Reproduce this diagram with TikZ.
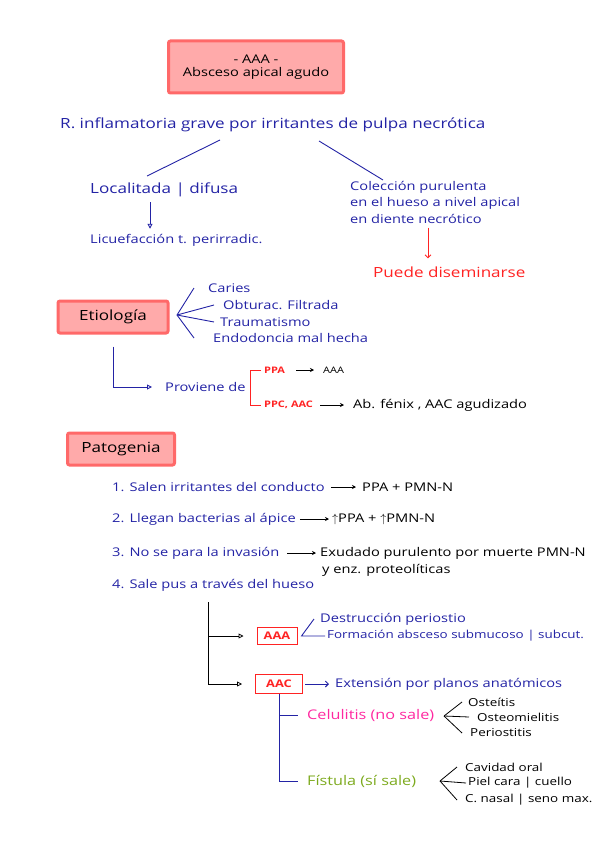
\documentclass[tikz,border=0pt]{standalone}
\usepackage{fontspec}
\setmainfont{Open Sans}[FakeStretch=1.22]
\usetikzlibrary{arrows.meta}

\definecolor{inkblue}{RGB}{35,35,165}
\definecolor{inkred}{RGB}{255,35,35}
\definecolor{inkpink}{RGB}{255,40,160}
\definecolor{inkgreen}{RGB}{125,170,30}
\definecolor{boxfill}{RGB}{255,170,170}
\definecolor{boxline}{RGB}{255,105,105}

\newcommand\fsbig{\fontsize{14}{16}\selectfont}
\newcommand\fscol{\fontsize{13.3}{15}\selectfont}
\newcommand\fsmid{\fontsize{12}{16.5}\selectfont}
\newcommand\fsnarrow{\fontsize{11}{12}\selectfont}
\newcommand\fssmall{\fontsize{9}{10}\selectfont}

\begin{document}
\begin{tikzpicture}[x=1pt, y=-1pt,
  txt/.style={anchor=west, inner sep=0pt},
  headbox/.style={draw=boxline, line width=3pt, fill=boxfill, rounded corners=2pt,
    inner sep=0pt, align=center, text=black},
  redbox/.style={draw=inkred, line width=1pt, fill=white, inner sep=0pt, text=inkred,
    font=\fontsize{10.5}{12}\selectfont\bfseries},
  bl/.style={draw=inkblue, line width=0.9pt},
  rl/.style={draw=inkred, line width=0.9pt},
  kl/.style={draw=black, line width=0.8pt},
  openhead/.style={-{Triangle[open, length=5pt, width=5pt]}},
  texthead/.style={-{Stealth[length=4pt, width=4pt]}}
]
\useasboundingbox (0,0) rectangle (599,848);

%%%%%%%%%%
% Header
%%%%%%%%%%
\node[headbox, minimum width=175pt, minimum height=52pt, font=\fsmid] (title) at (256,67)
  {- AAA -\\[-3pt]Absceso apical agudo};

%%%%%%%%%%
% Definition
%%%%%%%%%%
\node[txt, text=inkblue, font=\fsbig] (rinf) at (60,125) {R. inflamatoria grave por irritantes de pulpa necrótica};
\node[txt, text=inkblue, font=\fsbig] (loc) at (90,190) {Localitada | difusa};
\node[txt, text=inkblue, font=\fsmid] (licu) at (90,240) {Licuefacción t. perirradic.};
\node[txt, text=inkblue, font=\fsmid, anchor=north west, align=left] (colec) at (350,181)
  {Colección purulenta\\en el hueso a nivel apical\\en diente necrótico};
\node[txt, text=inkred, font=\fsbig] (puede) at (373,272) {Puede diseminarse};

\coordinate (rl1) at (220,140);
\coordinate (rl2) at (147,176);
\coordinate (rr1) at (319,141);
\coordinate (rr2) at (383,180);
\coordinate (redx) at (428,0);
\draw[bl] (rl1) -- (rl2);
\draw[bl] (rr1) -- (rr2);
\draw[bl, openhead] ([xshift=60pt, yshift=-5pt]loc.south west) -- ([xshift=60pt, yshift=5pt]licu.north west);
\draw[rl, -{Straight Barb[length=3pt]}] ([yshift=-4pt]colec.south -| redx) -- ([yshift=8pt]puede.north -| redx);

%%%%%%%%%%
% Etiology
%%%%%%%%%%
\node[headbox, minimum width=110pt, minimum height=32pt, font=\fsbig] (etio) at (113,317) {Etiología};
\coordinate (etfan) at (177,315);

\foreach \n/\x/\y/\lab in {
caries/208/288/{Caries},
obtur/223/305/{Obturac. Filtrada},
trauma/220/322/{Traumatismo},
endo/213/338/{Endodoncia mal hecha}
} {
\node[txt, text=inkblue, font=\fsmid] (\n) at (\x,\y) {\lab};
}
\foreach \n/\d in {caries/14, obtur/9, trauma/6, endo/19} {
\draw[bl] (etfan) -- ([xshift=-\d pt]\n.west);
}

\node[txt, text=inkblue, font=\fsmid] (prov) at (165,387) {Proviene de};
\draw[bl, openhead, shorten >=13pt] ([yshift=-12pt]etio.south) |- (prov.west);

\node[txt, text=inkred, font=\fssmall\bfseries] (ppa) at (264,370) {PPA};
\node[txt, text=inkred, font=\fssmall\bfseries] (ppc) at (264,405) {PPC, AAC};
\node[txt, font=\fssmall] (ppares) at (323,370) {AAA};
\node[txt, font=\fsmid] (ppcres) at (353,405) {Ab. fénix , AAC agudizado};
\draw[rl] ([xshift=-3pt]ppa.west) -- ++(-11,0) |- ([xshift=-3pt]ppc.west);
\draw[kl, texthead, shorten <=11pt, shorten >=9pt] (ppa.east) -- (ppares.west);
\draw[kl, texthead, shorten <=7pt, shorten >=9pt] (ppc.east) -- (ppcres.west);

%%%%%%%%%%
% Pathogenesis
%%%%%%%%%%
\node[headbox, minimum width=107pt, minimum height=32pt, font=\fsbig] (pato) at (121,449) {Patogenia};

\node[txt, text=inkblue, font=\fsmid] (p1) at (112,487) {1. Salen irritantes del conducto};
\node[txt, font=\fsmid] (p1r) at (362,487) {PPA + PMN-N};
\node[txt, text=inkblue, font=\fsmid] (p2) at (112,519) {2. Llegan bacterias al ápice};
\node[txt, font=\fsmid] (p2r) at (332,519) {$\uparrow$PPA + $\uparrow$PMN-N};
\node[txt, text=inkblue, font=\fsmid] (p3) at (112,553) {3. No se para la invasión};
\node[txt, font=\fsmid] (p3r) at (320,553) {Exudado purulento por muerte PMN-N};
\node[txt, font=\fsmid] (p3s) at (322,570) {y enz. proteolíticas};
\node[txt, text=inkblue, font=\fsmid] (p4) at (112,585) {4. Sale pus a través del hueso};

\draw[kl, texthead, shorten <=6pt, shorten >=6pt] (p1.east) -- (p1r.west);
\draw[kl, texthead, shorten <=4pt, shorten >=3pt] (p2.east) -- (p2r.west);
\draw[kl, texthead, shorten <=8pt, shorten >=4pt] (p3.east) -- (p3r.west);

%%%%%%%%%%
% AAA / AAC
%%%%%%%%%%
\coordinate (tree) at (208,602);
\node[redbox, minimum width=40pt, minimum height=17pt] (aaa) at (277,636) {AAA};
\node[redbox, minimum width=47pt, minimum height=19pt] (aac) at (279,684) {AAC};
\draw[kl, openhead, shorten >=13pt] (tree) |- (aaa.west);
\draw[kl, openhead, shorten >=13pt] (tree) |- (aac.west);

\node[txt, text=inkblue, font=\fsmid] (destr) at (320,619) {Destrucción periostio};
\node[txt, text=inkblue, font=\fsnarrow] (formac) at (327,636) {Formación absceso submucoso | subcut.};
\draw[bl] ([xshift=-6pt]destr.west) -- ([xshift=4pt]aaa.east) -- ([xshift=-2pt]formac.west);

\node[txt, text=inkblue, font=\fsmid] (ext) at (335,684) {Extensión por planos anatómicos};
\draw[bl, -{Straight Barb[length=3pt]}, shorten <=2pt, shorten >=6pt] (aac.east) -- (ext.west);

\node[txt, text=inkpink, font=\fscol] (celul) at (307,715) {Celulitis (no sale)};
\node[txt, text=inkgreen, font=\fscol] (fist) at (307,781) {Fístula (sí sale)};
\draw[bl] (aac.south) |- ([xshift=-9pt]celul.west);
\draw[bl] (aac.south) |- ([xshift=-9pt]fist.west);

\foreach \n/\x/\y/\lab in {
oste/468/702/{Osteítis},
osmi/477/717/{Osteomielitis},
peri/470/733/{Periostitis},
cavi/465/767/{Cavidad oral},
piel/468/783/{Piel cara | cuello},
nasal/465/800/{C. nasal | seno max.}
} {
\node[txt, font=\fsnarrow] (\n) at (\x,\y) {\lab};
}
\coordinate (celfan) at (444,716);
\coordinate (fisfan) at (440,781);
\foreach \n/\d in {oste/6, osmi/8, peri/8} {
\draw[kl] (celfan) -- ([xshift=-\d pt]\n.west);
}
\foreach \n/\d in {cavi/8, piel/2, nasal/8} {
\draw[kl] (fisfan) -- ([xshift=-\d pt]\n.west);
}

\end{tikzpicture}
\end{document}
